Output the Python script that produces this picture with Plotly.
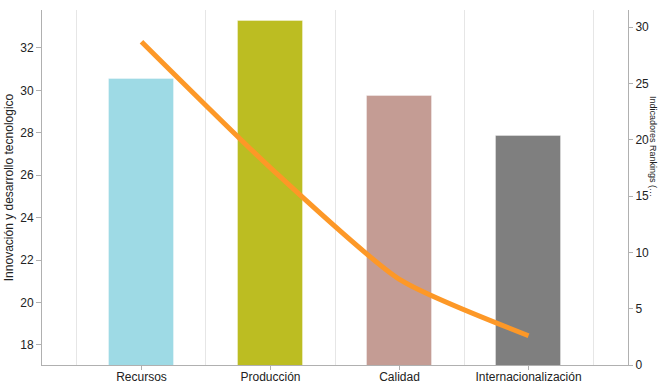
import plotly.graph_objects as go

# Categories and values
categories = ["Recursos", "Producción", "Calidad", "Internacionalización"]
innovacion = [30.55, 33.25, 29.75, 27.85]          # bars, left axis
rankings = [28.7, 17.5, 7.6, 2.6]                   # line, right axis
bar_colors = ["#9edae5", "#bcbd22", "#c49c94", "#7f7f7f"]

left_title = "Innovación y desarrollo tecnologico"
right_title = "Indicadores Rankings (…"

xpos = list(range(len(categories)))
font = "Liberation Sans, Arial, sans-serif"

fig = go.Figure()
fig.add_trace(go.Bar(
    x=xpos, y=innovacion, width=0.5,
    marker=dict(color=bar_colors, line=dict(color="rgba(255,255,255,0.35)", width=1)),
    yaxis="y", showlegend=False,
))
fig.add_trace(go.Scatter(
    x=xpos, y=rankings, mode="lines",
    line=dict(color="#fd9827", width=5, shape="spline", smoothing=0.6),
    yaxis="y2", showlegend=False,
))

axis_line = "#b0b0b0"
tick_font = dict(size=12, color="#222")
fig.update_layout(
    width=659, height=385,
    margin=dict(l=42, r=31, t=10, b=20),
    paper_bgcolor="white", plot_bgcolor="white",
    font=dict(family=font, size=12, color="#333"),
    bargap=0,
    xaxis=dict(
        range=[-0.771, 3.771], automargin=False,
        tickvals=xpos, ticktext=categories,
        showgrid=False, zeroline=False,
        showline=True, linecolor=axis_line, linewidth=1,
        ticks="outside", ticklen=4, tickcolor=axis_line,
        ticklabelstandoff=-3,
        tickfont=tick_font,
        minor=dict(tick0=0.5, dtick=1, showgrid=True, gridcolor="#e6e6e6", gridwidth=1, ticks=""),
    ),
    yaxis=dict(
        range=[17.057, 33.79], automargin=False,
        tickvals=[18, 20, 22, 24, 26, 28, 30, 32],
        showgrid=False, zeroline=False,
        showline=True, linecolor=axis_line, linewidth=1,
        ticks="outside", ticklen=5, tickcolor=axis_line,
        tickfont=tick_font,
        title=dict(text=left_title, font=dict(size=12, color="#222"), standoff=4),
    ),
    yaxis2=dict(
        range=[0, 31.51], automargin=False,
        tickvals=[0, 5, 10, 15, 20, 25, 30],
        overlaying="y", side="right",
        showgrid=False, zeroline=False,
        showline=True, linecolor=axis_line, linewidth=1,
        ticks="outside", ticklen=4, tickcolor=axis_line,
        tickfont=tick_font,
    ),
    annotations=[dict(
        text=right_title, textangle=90,
        xref="paper", yref="paper", x=1.0, y=0.617,
        xshift=25, xanchor="center", yanchor="middle",
        showarrow=False, font=dict(size=9, color="#222"),
    )],
)

fig.write_html("out.html")
